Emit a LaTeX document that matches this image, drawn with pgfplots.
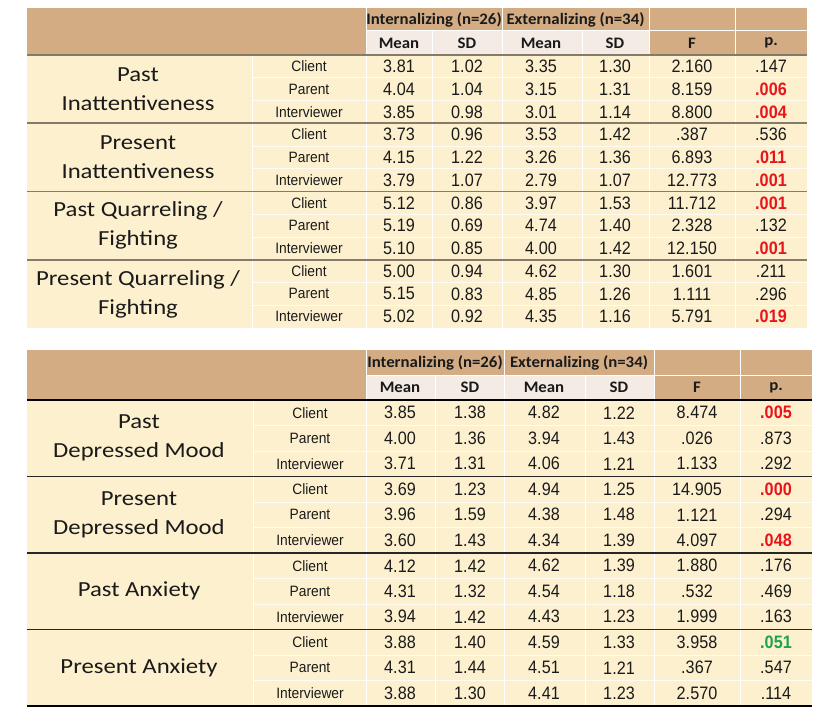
\documentclass[border=0pt]{standalone}
\usepackage{pgfplots}
\pgfplotsset{compat=1.18}
\usepackage{pgfplotstable}
\usepackage{fontspec}
\setmainfont{Liberation Sans}
\newfontfamily\numfont[FakeStretch=0.9]{Liberation Sans}
\newfontfamily\ratfont[FakeStretch=0.92]{Liberation Sans}
\newfontfamily\lblfont[FakeStretch=1.15]{Carlito}
\newfontfamily\hdfont[FakeStretch=1.05]{Carlito}
\newcommand\numf{\numfont\fontsize{18}{20}\selectfont}
\newcommand\numfb{\numfont\bfseries\fontsize{18}{20}\selectfont}
\newcommand\ratf{\ratfont\fontsize{15}{17}\selectfont}
\newcommand\lblf{\lblfont\fontsize{21.5}{29}\selectfont}
\newcommand\hdf{\hdfont\bfseries\fontsize{16}{18}\selectfont}
\definecolor{tanc}{HTML}{D4AC84}
\definecolor{hlight}{HTML}{F3EBE4}
\definecolor{cream}{HTML}{FDF0CF}
\definecolor{sepA}{HTML}{857B6A}
\definecolor{pred}{HTML}{E8141B}
\definecolor{pgreen}{HTML}{1EA34A}
\definecolor{txt}{HTML}{1A1A1A}

\pgfplotstableread{
r rater im isd em esd F
0 Client 3.81 1.02 3.35 1.30 2.160
1 Parent 4.04 1.04 3.15 1.31 8.159
2 Interviewer 3.85 0.98 3.01 1.14 8.800
3 Client 3.73 0.96 3.53 1.42 .387
4 Parent 4.15 1.22 3.26 1.36 6.893
5 Interviewer 3.79 1.07 2.79 1.07 12.773
6 Client 5.12 0.86 3.97 1.53 11.712
7 Parent 5.19 0.69 4.74 1.40 2.328
8 Interviewer 5.10 0.85 4.00 1.42 12.150
9 Client 5.00 0.94 4.62 1.30 1.601
10 Parent 5.15 0.83 4.85 1.26 1.111
11 Interviewer 5.02 0.92 4.35 1.16 5.791
}\topdata

\pgfplotstableread{
r rater im isd em esd F
0 Client 3.85 1.38 4.82 1.22 8.474
1 Parent 4.00 1.36 3.94 1.43 .026
2 Interviewer 3.71 1.31 4.06 1.21 1.133
3 Client 3.69 1.23 4.94 1.25 14.905
4 Parent 3.96 1.59 4.38 1.48 1.121
5 Interviewer 3.60 1.43 4.34 1.39 4.097
6 Client 4.12 1.42 4.62 1.39 1.880
7 Parent 4.31 1.32 4.54 1.18 .532
8 Interviewer 3.94 1.42 4.43 1.23 1.999
9 Client 3.88 1.40 4.59 1.33 3.958
10 Parent 4.31 1.44 4.51 1.21 .367
11 Interviewer 3.88 1.30 4.41 1.23 2.570
}\botdata

\pgfplotsset{
  cell/.style={only marks, mark=none, nodes near coords, point meta=explicit symbolic,
    nodes near coords align={center},
    every node near coord/.append style={anchor=center, inner sep=0pt, font=#1}},
}

\begin{document}
\begin{tikzpicture}
\begin{axis}[
  scale only axis, width=827pt, height=722pt,
  xmin=0, xmax=827, ymin=0, ymax=722, y dir=reverse,
  hide axis, clip=false,
]
\path (axis cs:0,0) rectangle (axis cs:827,722);
% ---------- top table backgrounds ----------
\fill[tanc] (axis cs:27,8) rectangle (axis cs:807,55);
\fill[hlight] (axis cs:366,31) rectangle (axis cs:649,55);
\fill[cream] (axis cs:27,55) rectangle (axis cs:807,328);
\pgfplotsinvokeforeach{366,502,649,735}{\draw[white,line width=1pt] (axis cs:#1,8) -- (axis cs:#1,328);}
\pgfplotsinvokeforeach{432,582}{\draw[white,line width=1pt] (axis cs:#1,31) -- (axis cs:#1,328);}
\draw[white,line width=1pt] (axis cs:252,55) -- (axis cs:252,328);
\draw[white,line width=1pt] (axis cs:366,31) -- (axis cs:807,31);
\pgfplotsinvokeforeach{77.75,100.5,146,168.75,214.25,237,282.5,305.25}{\draw[white,line width=0.8pt,opacity=0.8] (axis cs:252,#1) -- (axis cs:807,#1);}
\draw[sepA,line width=2.2pt] (axis cs:27,55) -- (axis cs:807,55);
\pgfplotsinvokeforeach{123.25,191.5,259.75}{\draw[sepA,line width=1.8pt] (axis cs:27,#1) -- (axis cs:807,#1);}
% ---------- bottom table backgrounds ----------
\fill[tanc] (axis cs:27,350) rectangle (axis cs:812,400);
\fill[hlight] (axis cs:366,375) rectangle (axis cs:654,400);
\fill[cream] (axis cs:27,400) rectangle (axis cs:812,706);
\pgfplotsinvokeforeach{366,504,654,740}{\draw[white,line width=1pt] (axis cs:#1,350) -- (axis cs:#1,706);}
\pgfplotsinvokeforeach{435,585}{\draw[white,line width=1pt] (axis cs:#1,375) -- (axis cs:#1,706);}
\draw[white,line width=1pt] (axis cs:253,400) -- (axis cs:253,706);
\draw[white,line width=1pt] (axis cs:366,375) -- (axis cs:812,375);
\pgfplotsinvokeforeach{425.5,451,502,527.5,578.5,604,655,680.5}{\draw[white,line width=0.8pt,opacity=0.8] (axis cs:253,#1) -- (axis cs:812,#1);}
\draw[black,line width=1.8pt] (axis cs:27,400) -- (axis cs:812,400);
\pgfplotsinvokeforeach{476.5,553,629.5}{\draw[black!85,line width=1.2pt] (axis cs:27,#1) -- (axis cs:812,#1);}
\draw[black,line width=1.5pt] (axis cs:27,706) -- (axis cs:812,706);
% ---------- headers ----------
\node[font=\hdf,text=txt] at (axis cs:434,19.5) {Internalizing (n=26)};
\node[font=\hdf,text=txt] at (axis cs:575.5,19.5) {Externalizing (n=34)};
\node[font=\hdf,text=txt] at (axis cs:399,43) {Mean};
\node[font=\hdf,text=txt] at (axis cs:467,43) {SD};
\node[font=\hdf,text=txt] at (axis cs:541,43) {Mean};
\node[font=\hdf,text=txt] at (axis cs:615,43) {SD};
\node[font=\hdf,text=txt] at (axis cs:692,43) {F};
\node[font=\hdf,text=txt] at (axis cs:771,43) {p.};
\node[font=\hdf,text=txt] at (axis cs:435,362.5) {Internalizing (n=26)};
\node[font=\hdf,text=txt] at (axis cs:579,362.5) {Externalizing (n=34)};
\node[font=\hdf,text=txt] at (axis cs:400,387.5) {Mean};
\node[font=\hdf,text=txt] at (axis cs:470,387.5) {SD};
\node[font=\hdf,text=txt] at (axis cs:544,387.5) {Mean};
\node[font=\hdf,text=txt] at (axis cs:619,387.5) {SD};
\node[font=\hdf,text=txt] at (axis cs:697,387.5) {F};
\node[font=\hdf,text=txt] at (axis cs:776,387.5) {p.};
% ---------- group labels ----------
\node[font=\lblf,text=txt,align=center] at (axis cs:138,89.1) {Past\\Inattentiveness};
\node[font=\lblf,text=txt,align=center] at (axis cs:138,157.4) {Present\\Inattentiveness};
\node[font=\lblf,text=txt,align=center] at (axis cs:138,225.6) {Past Quarreling /\\Fighting};
\node[font=\lblf,text=txt,align=center] at (axis cs:138,293.9) {Present Quarreling /\\Fighting};
\node[font=\lblf,text=txt,align=center] at (axis cs:139,438.25) {Past\\Depressed Mood};
\node[font=\lblf,text=txt,align=center] at (axis cs:139,514.75) {Present\\Depressed Mood};
\node[font=\lblf,text=txt,align=center] at (axis cs:139,591.25) {Past Anxiety};
\node[font=\lblf,text=txt,align=center] at (axis cs:139,667.75) {Present Anxiety};
% ---------- top table cells ----------
\addplot[cell=\ratf, txt] table[x expr=309, y expr={55+(\thisrow{r}+0.5)*22.75}, meta=rater] {\topdata};
\addplot[cell=\numf, txt] table[x expr=399, y expr={55+(\thisrow{r}+0.5)*22.75}, meta=im] {\topdata};
\addplot[cell=\numf, txt] table[x expr=467, y expr={55+(\thisrow{r}+0.5)*22.75}, meta=isd] {\topdata};
\addplot[cell=\numf, txt] table[x expr=541, y expr={55+(\thisrow{r}+0.5)*22.75}, meta=em] {\topdata};
\addplot[cell=\numf, txt] table[x expr=615, y expr={55+(\thisrow{r}+0.5)*22.75}, meta=esd] {\topdata};
\addplot[cell=\numf, txt] table[x expr=692, y expr={55+(\thisrow{r}+0.5)*22.75}, meta=F] {\topdata};
\addplot[cell=\numf, txt] table[x expr=771, y expr={55+(\thisrow{r}+0.5)*22.75}, meta=p] {
r p
0 .147
3 .536
7 .132
9 .211
10 .296
};
\addplot[cell=\numfb, pred] table[x expr=771, y expr={55+(\thisrow{r}+0.5)*22.75}, meta=p] {
r p
1 .006
2 .004
4 .011
5 .001
6 .001
8 .001
11 .019
};
% ---------- bottom table cells ----------
\addplot[cell=\ratf, txt] table[x expr=310, y expr={400+(\thisrow{r}+0.5)*25.5}, meta=rater] {\botdata};
\addplot[cell=\numf, txt] table[x expr=400, y expr={400+(\thisrow{r}+0.5)*25.5}, meta=im] {\botdata};
\addplot[cell=\numf, txt] table[x expr=470, y expr={400+(\thisrow{r}+0.5)*25.5}, meta=isd] {\botdata};
\addplot[cell=\numf, txt] table[x expr=544, y expr={400+(\thisrow{r}+0.5)*25.5}, meta=em] {\botdata};
\addplot[cell=\numf, txt] table[x expr=619, y expr={400+(\thisrow{r}+0.5)*25.5}, meta=esd] {\botdata};
\addplot[cell=\numf, txt] table[x expr=697, y expr={400+(\thisrow{r}+0.5)*25.5}, meta=F] {\botdata};
\addplot[cell=\numf, txt] table[x expr=776, y expr={400+(\thisrow{r}+0.5)*25.5}, meta=p] {
r p
1 .873
2 .292
4 .294
6 .176
7 .469
8 .163
10 .547
11 .114
};
\addplot[cell=\numfb, pred] table[x expr=776, y expr={400+(\thisrow{r}+0.5)*25.5}, meta=p] {
r p
0 .005
3 .000
5 .048
};
\addplot[cell=\numfb, pgreen] table[x expr=776, y expr={400+(\thisrow{r}+0.5)*25.5}, meta=p] {
r p
9 .051
};
\end{axis}
\end{tikzpicture}
\end{document}
